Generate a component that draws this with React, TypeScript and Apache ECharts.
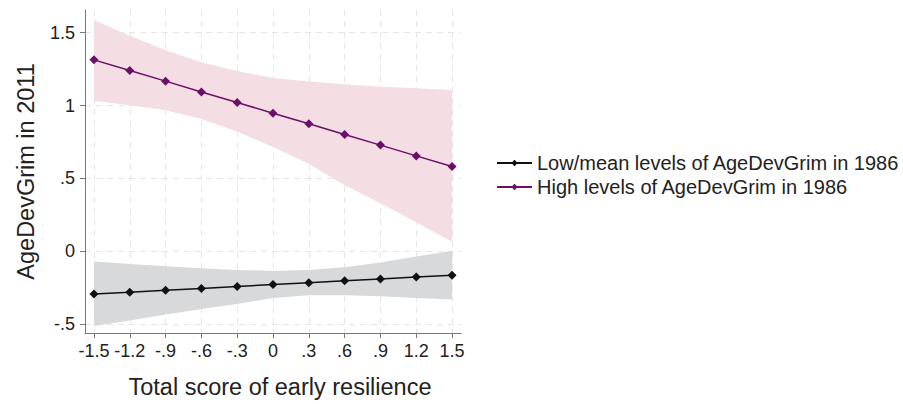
import React, { useEffect, useRef } from "react";
import * as echarts from "echarts";

const xValues = [-1.5, -1.2, -0.9, -0.6, -0.3, 0, 0.3, 0.6, 0.9, 1.2, 1.5];
const xTickLabels = ["-1.5", "-1.2", "-.9", "-.6", "-.3", "0", ".3", ".6", ".9", "1.2", "1.5"];
const yTicks = [-0.5, 0, 0.5, 1, 1.5];
const yTickLabels = ["-.5", "0", ".5", "1", "1.5"];

const lowMean = [-0.293, -0.28, -0.267, -0.254, -0.241, -0.228, -0.215, -0.202, -0.189, -0.176, -0.163];
const lowUpper = [-0.07, -0.086, -0.102, -0.116, -0.127, -0.134, -0.127, -0.109, -0.077, -0.036, 0.005];
const lowLower = [-0.512, -0.474, -0.433, -0.395, -0.361, -0.32, -0.301, -0.301, -0.308, -0.32, -0.331];

const highMean = [1.314, 1.241, 1.168, 1.094, 1.021, 0.948, 0.875, 0.802, 0.729, 0.655, 0.582];
const highUpper = [1.588, 1.48, 1.38, 1.298, 1.237, 1.19, 1.165, 1.146, 1.13, 1.12, 1.107];
const highLower = [1.033, 1.003, 0.969, 0.908, 0.822, 0.716, 0.602, 0.454, 0.33, 0.2, 0.066];

const seriesNames = ["Low/mean levels of AgeDevGrim in 1986", "High levels of AgeDevGrim in 1986"];

const FONT = "Liberation Sans, Arial, Helvetica, sans-serif";

export default function App() {
  const ref = useRef<HTMLDivElement>(null);
  useEffect(() => {
    if (!ref.current) return;
    const chart = echarts.init(ref.current, undefined, { renderer: "svg" });
    const pair = (arr: number[]) => arr.map((v, i) => [xValues[i], v]);
    const band = (upper: number[], lower: number[], color: string) => ({
      type: "custom",
      silent: true,
      z: 1,
      data: [[xValues[0], upper[0]]],
      renderItem: (params: any, api: any) => {
        const pts: number[][] = [];
        for (let i = 0; i < xValues.length; i++) pts.push(api.coord([xValues[i], upper[i]]));
        for (let i = xValues.length - 1; i >= 0; i--) pts.push(api.coord([xValues[i], lower[i]]));
        return {
          type: "polygon",
          shape: { points: pts },
          style: { fill: color, stroke: "none" },
        };
      },
    });
    const tickFmt = (vals: number[], labels: string[]) => (v: number) => {
      const i = vals.findIndex((x) => Math.abs(x - v) < 1e-6);
      return i >= 0 ? labels[i] : "";
    };
    chart.setOption({
      animation: false,
      backgroundColor: "#ffffff",
      textStyle: { fontFamily: FONT },
      grid: { left: 85, right: 442, top: 10, bottom: 68 },
      legend: {
        orient: "vertical",
        left: 491,
        top: 148,
        itemWidth: 35,
        itemHeight: 8,
        itemGap: 4,
        data: seriesNames,
        textStyle: { fontFamily: FONT, fontSize: 20, color: "#222" },
      },
      xAxis: {
        type: "value",
        min: -1.575,
        max: 1.575,
        name: "Total score of early resilience",
        nameLocation: "middle",
        nameGap: 42,
        nameTextStyle: { fontFamily: FONT, fontSize: 23.5, color: "#222", padding: [0, 0, 0, 14] },
        axisLine: { show: true, onZero: false, lineStyle: { color: "#777", width: 1 } },
        axisTick: { show: true, length: 5, customValues: xValues, lineStyle: { color: "#777" } },
        axisLabel: {
          customValues: xValues,
          margin: 9,
          fontSize: 18,
          color: "#222",
          fontFamily: FONT,
          formatter: tickFmt(xValues, xTickLabels),
        },
        splitLine: { show: true, lineStyle: { color: "#e6e6e6", type: [6, 5], width: 1 } },
      },
      yAxis: {
        type: "value",
        min: -0.56,
        max: 1.656,
        name: "AgeDevGrim in 2011",
        nameLocation: "middle",
        nameGap: 47,
        nameTextStyle: { fontFamily: FONT, fontSize: 23.5, color: "#222" },
        axisLine: { show: true, onZero: false, lineStyle: { color: "#777", width: 1 } },
        axisTick: { show: true, length: 5, customValues: yTicks, lineStyle: { color: "#777" } },
        axisLabel: {
          customValues: yTicks,
          margin: 10,
          fontSize: 18,
          color: "#222",
          fontFamily: FONT,
          formatter: tickFmt(yTicks, yTickLabels),
        },
        splitLine: { show: true, lineStyle: { color: "#e6e6e6", type: [6, 5], width: 1 } },
      },
      series: [
        band(lowUpper, lowLower, "#d8d9db"),
        band(highUpper, highLower, "#f4dde3"),
        {
          name: seriesNames[0],
          type: "line",
          data: pair(lowMean),
          symbol: "diamond",
          symbolSize: 9,
          color: "#111111",
          lineStyle: { color: "#111111", width: 1.5 },
          itemStyle: { color: "#111111" },
          z: 3,
        },
        {
          name: seriesNames[1],
          type: "line",
          data: pair(highMean),
          symbol: "diamond",
          symbolSize: 9,
          color: "#6b0f68",
          lineStyle: { color: "#6b0f68", width: 1.5 },
          itemStyle: { color: "#6b0f68" },
          z: 3,
        },
      ],
    });
    return () => chart.dispose();
  }, []);
  return <div ref={ref} style={{ position: "fixed", left: 0, top: 0, width: 903, height: 404 }} />;
}
